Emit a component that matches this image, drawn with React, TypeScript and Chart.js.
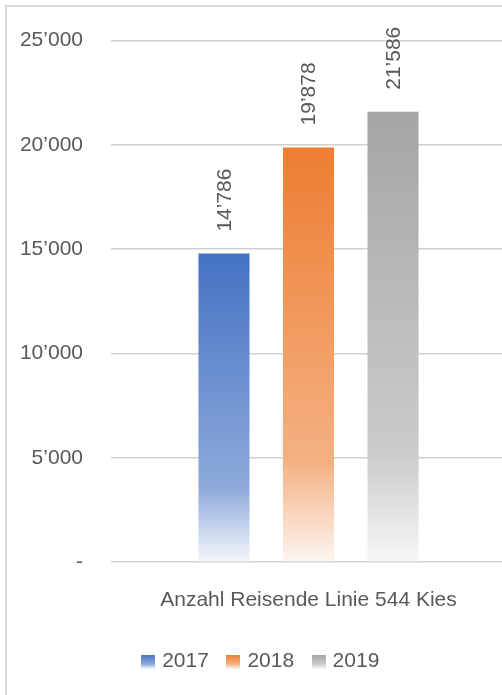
import React, { useEffect, useRef } from "react";
import { Chart, registerables } from "chart.js";

Chart.register(...registerables);

const categories = ["Anzahl Reisende Linie 544 Kies"];
const seriesLabels = ["2017", "2018", "2019"];
const values2017 = [14786];
const values2018 = [19878];
const values2019 = [21586];
const yTicks = [0, 5000, 10000, 15000, 20000, 25000];

const topColors = ["#4472c4", "#ed7d31", "#a5a5a5"];
const midColors = ["#8eaadb", "#f4b183", "#cbcbcb"];
const bottomColors = ["#f4f7fc", "#fdf6f1", "#f7f7f7"];

const FONT = "'Liberation Sans', Arial, sans-serif";
const TEXT = "#595959";

function fmt(v: number): string {
  if (v === 0) return "-";
  return Math.round(v)
    .toString()
    .replace(/\B(?=(\d{3})+(?!\d))/g, "\u2019");
}

function legendImage(i: number): HTMLCanvasElement {
  const c = document.createElement("canvas");
  c.width = 14;
  c.height = 14;
  const g = c.getContext("2d")!;
  const gr = g.createLinearGradient(0, 0, 0, 14);
  gr.addColorStop(0, topColors[i]);
  gr.addColorStop(0.7, midColors[i]);
  gr.addColorStop(1, bottomColors[i]);
  g.fillStyle = gr;
  g.fillRect(0, 0, 14, 14);
  return c;
}

const valueLabels = {
  id: "valueLabels",
  afterDatasetsDraw(chart: any) {
    const ctx = chart.ctx;
    ctx.save();
    ctx.fillStyle = TEXT;
    ctx.font = `21px ${FONT}`;
    ctx.textAlign = "left";
    ctx.textBaseline = "middle";
    chart.data.datasets.forEach((ds: any, di: number) => {
      const meta = chart.getDatasetMeta(di);
      meta.data.forEach((bar: any, i: number) => {
        ctx.save();
        ctx.translate(bar.x, bar.y - 22);
        ctx.rotate(-Math.PI / 2);
        ctx.fillText(fmt(ds.data[i]), 0, 1);
        ctx.restore();
      });
    });
    ctx.restore();
  },
};

function gradientFor(i: number) {
  return (ctx: any) => {
    const chart = ctx.chart;
    if (!chart.chartArea || ctx.type !== "data") return topColors[i];
    const y = chart.scales.y;
    const yTop = y.getPixelForValue(ctx.raw);
    const yBase = y.getPixelForValue(0);
    const g = chart.ctx.createLinearGradient(0, yTop, 0, yBase);
    g.addColorStop(0, topColors[i]);
    g.addColorStop(0.76, midColors[i]);
    g.addColorStop(1, bottomColors[i]);
    return g;
  };
}

export default function App() {
  const ref = useRef<HTMLCanvasElement | null>(null);

  useEffect(() => {
    if (!ref.current) return;
    Chart.defaults.font.family = FONT;
    const series = [values2017, values2018, values2019];
    const imgs = [0, 1, 2].map(legendImage);
    const chart = new Chart(ref.current, {
      type: "bar",
      data: {
        labels: categories,
        datasets: series.map((d, i) => ({
          label: seriesLabels[i],
          data: d,
          backgroundColor: gradientFor(i),
          borderWidth: 0,
          categoryPercentage: 0.642,
          barPercentage: 0.604,
        })),
      },
      options: {
        animation: false,
        responsive: false,
        maintainAspectRatio: false,
        layout: { padding: { top: 38, right: 14, bottom: 18, left: 18 } },
        plugins: {
          tooltip: { enabled: false },
          legend: {
            position: "bottom",
            labels: {
              usePointStyle: true,
              pointStyleWidth: 7,
              boxHeight: 14,
              padding: 21,
              color: TEXT,
              font: { size: 21, family: FONT },
              generateLabels: (c: any) =>
                c.data.datasets.map((ds: any, i: number) => ({
                  text: ds.label,
                  fillStyle: topColors[i],
                  strokeStyle: "transparent",
                  lineWidth: 0,
                  hidden: false,
                  datasetIndex: i,
                  pointStyle: imgs[i],
                  fontColor: TEXT,
                })),
            },
          },
        },
        scales: {
          x: {
            grid: { display: false },
            border: { display: false },
            ticks: { color: TEXT, font: { size: 21 }, padding: 18 },
            afterFit: (s: any) => {
              s.height = 68;
            },
          },
          y: {
            min: 0,
            max: 25000,
            afterBuildTicks: (s: any) => {
              s.ticks = yTicks.map((v) => ({ value: v }));
            },
            grid: { color: "#d0d0d0", lineWidth: 1.5, drawTicks: false },
            border: { display: false },
            ticks: {
              color: TEXT,
              font: { size: 21 },
              padding: 28,
              callback: (v: any) => fmt(Number(v)),
            },
            afterFit: (s: any) => {
              s.width = 93;
            },
          },
        },
      },
      plugins: [valueLabels],
    });
    return () => chart.destroy();
  }, []);

  return (
    <div
      style={{
        position: "absolute",
        left: 0,
        top: 0,
        width: 502,
        height: 695,
        overflow: "hidden",
        background: "#fff",
      }}
    >
      <div
        style={{
          position: "absolute",
          left: 5,
          top: 5,
          width: 530,
          height: 720,
          border: "2px solid #d9d9d9",
          boxSizing: "border-box",
        }}
      />
      <canvas
        ref={ref}
        width={520}
        height={700}
        style={{ position: "absolute", left: 0, top: 0, width: 520, height: 700 }}
      />
    </div>
  );
}
